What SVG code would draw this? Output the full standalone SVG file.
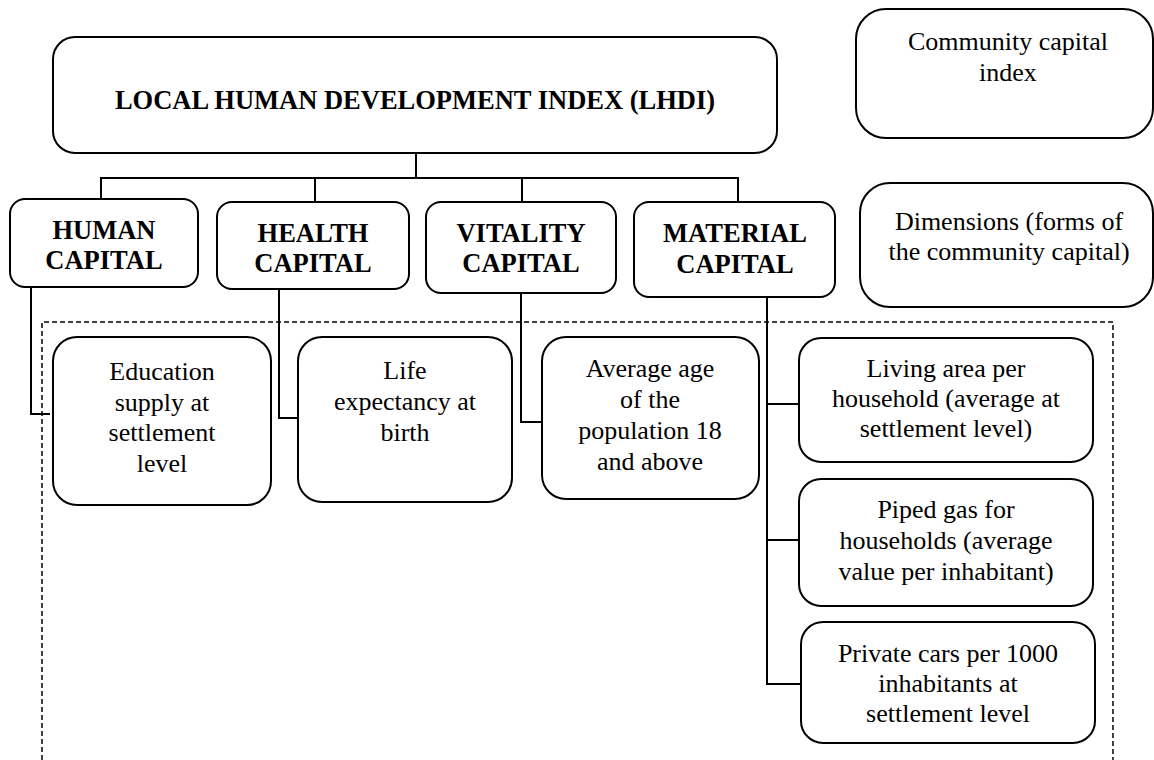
<svg xmlns="http://www.w3.org/2000/svg" width="1154" height="760" viewBox="0 0 1154 760">
<style>
.box{fill:#fff;stroke:#000;stroke-width:2}
.b{font-weight:bold;font-size:26.5px;text-anchor:middle;fill:#000}
.t{font-size:26px;text-anchor:middle;fill:#000}
.ln{fill:none;stroke:#000;stroke-width:2}
.dash{fill:none;stroke:#000;stroke-width:1.5;stroke-dasharray:5,3}
</style>
<rect width="1154" height="760" fill="#fff"/>
<g id="frame">
<path class="dash" d="M42,760 V322 H1113 V760"/>
</g>
<g id="connectors">
<path class="ln" d="M416,153 V178 M101,199 V178 H738 V202 M315,178 V202 M522,178 V202"/>
<path class="ln" d="M31,287 V414 H50"/>
<path class="ln" d="M279,289 V418 H298"/>
<path class="ln" d="M521,293 V422 H542"/>
<path class="ln" d="M767,297 V684 H800 M767,404 H799 M767,540 H799"/>
</g>
<g font-family="Liberation Serif, Times New Roman, DejaVu Serif, serif">
<g id="lhdi">
<rect class="box" x="53" y="37" width="724" height="116" rx="22"/>
<text class="b" x="415" y="109">LOCAL HUMAN DEVELOPMENT INDEX (LHDI)</text>
</g>
<g id="community">
<rect class="box" x="856" y="9" width="297" height="129" rx="30"/>
<text class="t" x="1008" y="50">Community capital</text>
<text class="t" x="1008" y="81">index</text>
</g>
<g id="dimensions">
<rect class="box" x="860" y="183" width="293" height="124" rx="30"/>
<text class="t" x="1009" y="230">Dimensions (forms of</text>
<text class="t" x="1009" y="260">the community capital)</text>
</g>
<g id="human">
<rect class="box" x="10" y="199" width="188" height="88" rx="15"/>
<text class="b" x="104" y="239">HUMAN</text>
<text class="b" x="104" y="269">CAPITAL</text>
</g>
<g id="health">
<rect class="box" x="217" y="202" width="192" height="87" rx="15"/>
<text class="b" x="313" y="242">HEALTH</text>
<text class="b" x="313" y="272">CAPITAL</text>
</g>
<g id="vitality">
<rect class="box" x="426" y="202" width="190" height="91" rx="15"/>
<text class="b" x="521" y="242">VITALITY</text>
<text class="b" x="521" y="272">CAPITAL</text>
</g>
<g id="material">
<rect class="box" x="634" y="202" width="201" height="95" rx="15"/>
<text class="b" x="735" y="242">MATERIAL</text>
<text class="b" x="735" y="273">CAPITAL</text>
</g>
<g id="education">
<rect class="box" x="53" y="337" width="218" height="168" rx="24"/>
<text class="t" x="162" y="380">Education</text>
<text class="t" x="162" y="411">supply at</text>
<text class="t" x="162" y="441">settlement</text>
<text class="t" x="162" y="472">level</text>
</g>
<g id="life">
<rect class="box" x="298" y="337" width="214" height="165" rx="24"/>
<text class="t" x="405" y="379">Life</text>
<text class="t" x="405" y="410">expectancy at</text>
<text class="t" x="405" y="441">birth</text>
</g>
<g id="average">
<rect class="box" x="542" y="337" width="217" height="162" rx="24"/>
<text class="t" x="650" y="377">Average age</text>
<text class="t" x="650" y="408">of the</text>
<text class="t" x="650" y="439">population 18</text>
<text class="t" x="650" y="470">and above</text>
</g>
<g id="living">
<rect class="box" x="799" y="338" width="294" height="124" rx="22"/>
<text class="t" x="946" y="377">Living area per</text>
<text class="t" x="946" y="407">household (average at</text>
<text class="t" x="946" y="437">settlement level)</text>
</g>
<g id="piped">
<rect class="box" x="799" y="479" width="294" height="127" rx="22"/>
<text class="t" x="946" y="518">Piped gas for</text>
<text class="t" x="946" y="549">households (average</text>
<text class="t" x="946" y="580">value per inhabitant)</text>
</g>
<g id="private">
<rect class="box" x="801" y="622" width="294" height="121" rx="22"/>
<text class="t" x="948" y="662">Private cars per 1000</text>
<text class="t" x="948" y="692">inhabitants at</text>
<text class="t" x="948" y="722">settlement level</text>
</g>
</g>
</svg>
